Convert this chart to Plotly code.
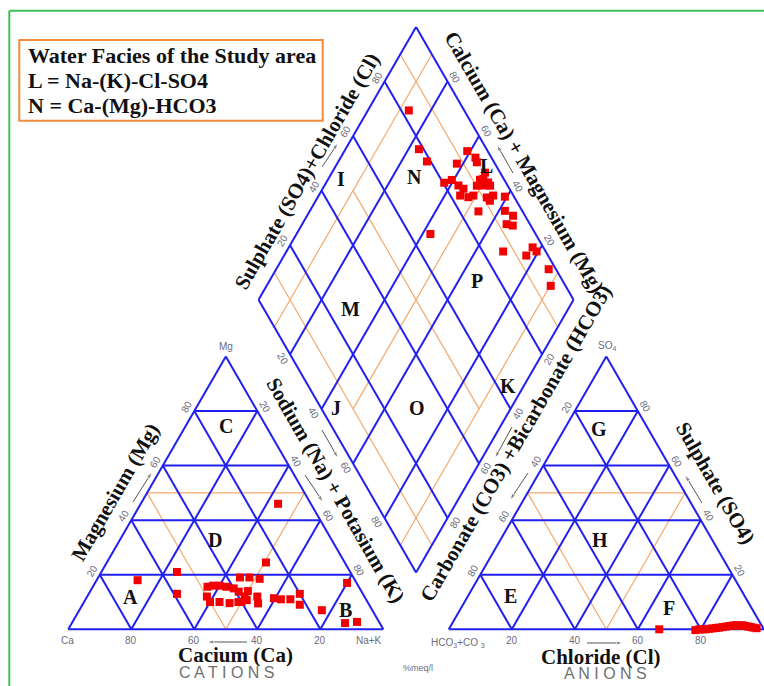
import math
import plotly.graph_objects as go

# ---------------- data ----------------
# Cation triangle samples: Ca %, Mg %   (Na+K = 100 - Ca - Mg)
cation_ca = [69, 55, 59, 25, 10.4, 36, 33, 30, 29, 27, 24, 20, 22, 16, 3, 11, 7,
             48, 46, 44, 42, 40, 39, 50, 50, 47, 41, 38, 34, 35, 44, 36, 38, 40]
cation_mg = [18, 21, 13, 24.5, 46, 19, 19, 18.5, 11.4, 11, 11, 13, 9, 7, 17, 2.3, 2.7,
             15.6, 16, 16, 15.6, 15, 13.8, 12, 10, 10, 10, 10.7, 12, 9.5, 9.6, 14, 12, 10]

# Anion triangle samples: Cl %, SO4 %   (HCO3+CO3 = 100 - Cl - SO4)
anion_cl = [66.8, 78.4, 79.5, 80.5, 81.5, 82.5, 83.5, 84.5, 85.5, 86.5, 87.5, 88.5,
            89.5, 90.5, 91.5, 92.5, 93.5, 94.5, 95.5, 96.5, 97.5]
anion_so4 = [0, -0.3, 0, 0, 0, 0.2, 0.3, 0.5, 0.6, 0.8, 1.0, 1.2,
             1.4, 1.5, 1.3, 1.5, 1.2, 1.0, 0.8, 0.6, 0.4]

# Diamond samples: Cl+SO4 %, Ca+Mg %
diamond_clso4 = [82.4, 78.5, 78.8, 80.4, 83.3, 87.9, 93.5, 94.9, 94.5, 92.3,
                 93.5, 94.4, 90.2, 92.3, 94.4, 84.4, 85.4, 83.1, 85.4, 87.3,
                 91.2, 93.6, 91.6, 97.1, 86.0, 94.5, 96.2, 92.6, 94.3, 66.6,
                 86.5, 93.1, 96.6, 97.1, 97.7, 95.3, 95.2]
diamond_camg = [87.0, 76.7, 71.9, 62.5, 60.6, 62.0, 61.0, 57.2, 55.9, 51.7,
                50.8, 48.6, 51.6, 49.6, 47.4, 57.5, 55.3, 55.1, 52.2, 50.9,
                46.3, 44.6, 44.7, 40.7, 46.4, 38.1, 34.6, 35.1, 32.9, 57.5,
                31.2, 23.1, 22.6, 20.6, 13.5, 9.8, 51.4]

tick_values = [20, 40, 60, 80]
legend_lines = ["Water Facies of the Study area", "L = Na-(K)-Cl-SO4", "N = Ca-(Mg)-HCO3"]

# facies letters: cation (Ca, Mg), anion (Cl, SO4), diamond (Cl+SO4, Ca+Mg)
cation_facies = {"A": (74.2, 11.8), "B": (8.6, 7.1), "C": (12.7, 74.5), "D": (37.1, 32.7)}
anion_facies = {"E": (13.4, 12.2), "F": (66.1, 7.8), "G": (11.1, 73.4), "H": (31.5, 32.7)}
diamond_facies = {"I": (48.3, 96.1), "N": (72.0, 73.1), "L": (97.0, 52.1), "M": (27.5, 69.1),
                  "P": (72.8, 34.2), "J": (4.6, 55.6), "O": (30.6, 29.9), "K": (63.5, 5.0)}

# ---------------- geometry ----------------
H = math.sqrt(3) / 2
G = 20.8                       # gap between the two triangles
AX0 = 100 + G                  # anion triangle left corner
BX, BY = 100 + G / 2, G * H    # diamond bottom vertex

S, OX, OY = 3.15, 68.3, 629.3  # pixel scale used only for decorations


def P(X, Y):
    return (X - OX) / S, (OY - Y) / S


def cat_xy(ca, mg):
    nak = 100 - ca - mg
    return nak + mg / 2, mg * H


def an_xy(cl, so4):
    return AX0 + cl + so4 / 2, so4 * H


def dia_xy(u, v):
    return BX + (u - v) / 2, BY + (u + v) * H


blue_x, blue_y, or_x, or_y = [], [], [], []


def seg(lx, ly, p, q):
    lx += [p[0], q[0], None]
    ly += [p[1], q[1], None]


# cation triangle
for a, b in [((100, 0), (0, 0)), ((0, 0), (0, 100)), ((0, 100), (100, 0))]:
    seg(blue_x, blue_y, cat_xy(*a), cat_xy(*b))
for k in tick_values:
    seg(blue_x, blue_y, cat_xy(100 - k, k), cat_xy(0, k))
    seg(blue_x, blue_y, cat_xy(k, 0), cat_xy(k, 100 - k))
    seg(blue_x, blue_y, cat_xy(100 - k, 0), cat_xy(0, 100 - k))
seg(or_x, or_y, cat_xy(50, 50), cat_xy(0, 50))
seg(or_x, or_y, cat_xy(50, 0), cat_xy(50, 50))
seg(or_x, or_y, cat_xy(50, 0), cat_xy(0, 50))

# anion triangle
for a, b in [((0, 0), (100, 0)), ((100, 0), (0, 100)), ((0, 100), (0, 0))]:
    seg(blue_x, blue_y, an_xy(*a), an_xy(*b))
for k in tick_values:
    seg(blue_x, blue_y, an_xy(0, k), an_xy(100 - k, k))
    seg(blue_x, blue_y, an_xy(k, 0), an_xy(k, 100 - k))
    seg(blue_x, blue_y, an_xy(100 - k, 0), an_xy(0, 100 - k))
seg(or_x, or_y, an_xy(0, 50), an_xy(50, 50))
seg(or_x, or_y, an_xy(50, 0), an_xy(50, 50))
seg(or_x, or_y, an_xy(50, 0), an_xy(0, 50))

# diamond
corners = [(0, 0), (100, 0), (100, 100), (0, 100), (0, 0)]
for a, b in zip(corners[:-1], corners[1:]):
    seg(blue_x, blue_y, dia_xy(*a), dia_xy(*b))
for k in tick_values:
    seg(blue_x, blue_y, dia_xy(k, 0), dia_xy(k, 100))
    seg(blue_x, blue_y, dia_xy(0, k), dia_xy(100, k))
for k in (10, 90):
    seg(or_x, or_y, dia_xy(k, 0), dia_xy(k, 100))
    seg(or_x, or_y, dia_xy(0, k), dia_xy(100, k))
seg(or_x, or_y, dia_xy(50, 10), dia_xy(50, 90))
seg(or_x, or_y, dia_xy(10, 50), dia_xy(90, 50))

fig = go.Figure()
fig.add_trace(go.Scatter(x=or_x, y=or_y, mode="lines", line=dict(color="#f6a96a", width=1.2),
                         hoverinfo="skip", showlegend=False))
fig.add_trace(go.Scatter(x=blue_x, y=blue_y, mode="lines", line=dict(color="#2020ee", width=2),
                         hoverinfo="skip", showlegend=False))

# small direction arrows (head, tail) in pixels, drawn as line + arrow marker
arrows = [((152, 472), (133, 502)), ((207, 642), (247, 642)), ((323, 502), (305, 475)),
          ((338, 458), (322, 430)), ((338, 143), (322, 167)), ((497, 145), (513, 173)),
          ((510, 500), (528, 473)), ((495, 458), (512, 427)), ((685, 475), (702, 503)),
          ((623, 643), (587, 643))]
for h, tl in arrows:
    hx, hy = P(*h)
    tx, ty = P(*tl)
    fig.add_trace(go.Scatter(x=[tx, hx], y=[ty, hy], mode="lines+markers",
                             line=dict(color="#555", width=1),
                             marker=dict(symbol="arrow", size=[0, 7], angleref="previous",
                                         color="#555"),
                             hoverinfo="skip", showlegend=False))

# sample points
cx, cy = zip(*[cat_xy(a, m) for a, m in zip(cation_ca, cation_mg)])
ax_, ay_ = zip(*[an_xy(c, s) for c, s in zip(anion_cl, anion_so4)])
dx, dy = zip(*[dia_xy(u, v) for u, v in zip(diamond_clso4, diamond_camg)])
marker = dict(symbol="square", size=8, color="#f20000", line=dict(width=0))
for xs, ys in [(cx, cy), (ax_, ay_), (dx, dy)]:
    fig.add_trace(go.Scatter(x=list(xs), y=list(ys), mode="markers", marker=marker,
                             hoverinfo="skip", showlegend=False))

ann = []
SERIF = "Liberation Serif"
SANS = "Liberation Sans"
TICK_COL = "#6c6c7c"


def text(xy, t, size=10, color=TICK_COL, angle=0, family=SANS, xanchor="center"):
    ann.append(dict(x=xy[0], y=xy[1], text=t, showarrow=False, textangle=angle,
                    xanchor=xanchor, yanchor="middle",
                    font=dict(family=family, size=size, color=color)))


def offset(p, n, d=2.7):
    return p[0] + n[0] * d, p[1] + n[1] * d


# tick labels
for k in tick_values:
    text((cat_xy(100 - k, 0)[0], -3.4), str(100 - k))           # Ca on base
    text((an_xy(k, 0)[0], -3.4), str(k))                          # Cl on base
    text(offset(cat_xy(100 - k, k), (-H, 0.5)), str(k), angle=-60)   # Mg
    text(offset(cat_xy(0, 100 - k), (H, 0.5)), str(k), angle=60)     # Na+K
    text(offset(an_xy(0, 100 - k), (-H, 0.5)), str(k), angle=-60)   # HCO3
    text(offset(an_xy(100 - k, k), (H, 0.5)), str(k), angle=60)      # SO4
    text(offset(dia_xy(k, 100), (-H, 0.5)), str(k), angle=-60)     # SO4+Cl
    text(offset(dia_xy(100, k), (H, 0.5)), str(k), angle=60)       # Ca+Mg
    text(offset(dia_xy(0, 100 - k), (-H, -0.5)), str(k), angle=60)  # Na+K
    text(offset(dia_xy(100 - k, 0), (H, -0.5)), str(k), angle=-60)  # HCO3

# corner labels
text(P(226, 346), "Mg")
text(P(67, 640), "Ca")
text(P(369, 640), "Na+K")
text(P(607, 346), "SO<sub>4</sub>")
text(P(458, 643), "HCO<sub>3</sub>+CO <sub>3</sub>")
text(P(765, 640), "Cl")
text(P(418, 668), "%meq/l", size=9)

# facies letters
for k, v in cation_facies.items():
    text(cat_xy(*v), "<b>%s</b>" % k, size=20, color="#111", family=SERIF)
for k, v in anion_facies.items():
    text(an_xy(*v), "<b>%s</b>" % k, size=20, color="#111", family=SERIF)
for k, v in diamond_facies.items():
    text(dia_xy(*v), "<b>%s</b>" % k, size=20, color="#111", family=SERIF)

# axis titles
titles = [
    ((115.5, 492), "Magnesium (Mg)", -60),
    ((335.5, 490), "Sodium (Na) + Potasium (K)", 60),
    ((235.5, 655), "Cacium (Ca)", 0),
    ((601, 657), "Chloride (Cl)", 0),
    ((715.5, 483), "Sulphate (SO4)", 60),
    ((515, 443.5), "Carbonate (CO3) +Bicarbonate (HCO3)", -60),
    ((524.5, 161.5), "Calcium (Ca) + Magnesium (Mg)", 60),
    ((306.8, 170.5), "Sulphate (SO4)+Chloride (Cl)", -60),
]
for (X, Y), t, a in titles:
    text(P(X, Y), "<b>%s</b>" % t, size=21, color="#111", angle=a, family=SERIF)
text(P(226, 672), "C A T I O N S", size=16, color="#707070")
text(P(605, 673), "A N I O N S", size=16, color="#707070")

# legend box text
for i, line in enumerate(legend_lines):
    text(P(26, 55 + 25 * i), "<b>%s</b>" % line, size=22, color="#111", family=SERIF,
         xanchor="left")

shapes = []
b0, b1 = P(19.3, 120.7), P(322.7, 40)
shapes.append(dict(type="rect", xref="x", yref="y", x0=b0[0], y0=b0[1], x1=b1[0], y1=b1[1],
                   line=dict(color="#f28c3c", width=2), fillcolor="rgba(0,0,0,0)"))
shapes.append(dict(type="line", xref="paper", yref="paper", x0=9.3 / 764, x1=1,
                   y0=1 - 10.7 / 686, y1=1 - 10.7 / 686, line=dict(color="#3cc05a", width=2)))
shapes.append(dict(type="line", xref="paper", yref="paper", x0=9.3 / 764, x1=9.3 / 764,
                   y0=0, y1=1 - 10.7 / 686, line=dict(color="#3cc05a", width=2)))

xr = [P(0, 0)[0], P(764, 0)[0]]
yr = [P(0, 686)[1], P(0, 0)[1]]
fig.update_layout(width=764, height=686, margin=dict(l=0, r=0, t=0, b=0),
                  paper_bgcolor="white", plot_bgcolor="white",
                  xaxis=dict(range=xr, visible=False, fixedrange=True),
                  yaxis=dict(range=yr, visible=False, fixedrange=True),
                  annotations=ann, shapes=shapes, showlegend=False)
fig.write_html("out.html", config={"displayModeBar": False})

# remove the default page margin so the figure starts at the window's corner
with open("out.html", encoding="utf-8") as f:
    html = f.read()
html = html.replace("<body>", '<body style="margin:0;padding:0;overflow:hidden">', 1)
with open("out.html", "w", encoding="utf-8") as f:
    f.write(html)
